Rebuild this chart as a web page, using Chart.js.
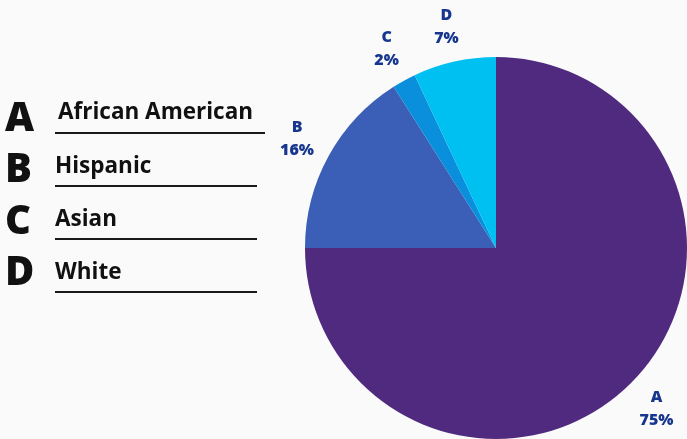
<!DOCTYPE html>
<html>
<head>
<meta charset="utf-8">
<script src="https://cdn.jsdelivr.net/npm/chart.js@4.4.1/dist/chart.umd.min.js"></script>
<style>
    html, body {
        margin: 0;
        padding: 0;
        background: #fafafa;
    }
    #wrap {
        position: relative;
        width: 687px;
        height: 439px;
        overflow: hidden;
        font-family: 'Open Sans', sans-serif;
    }
    #chartPie {
        position: absolute;
        left: 0;
        top: 0;
    }
    .leg-letter {
        position: absolute;
        font-size: 40px;
        line-height: 40px;
        font-weight: 800;
        color: #111;
    }
    .leg-name {
        position: absolute;
        font-size: 22.5px;
        line-height: 22.5px;
        font-weight: 700;
        color: #111;
        white-space: nowrap;
    }
    .leg-line {
        position: absolute;
        height: 2px;
        background: #1a1a1a;
    }
</style>
</head>
<body>
<div id="wrap">
    <canvas id="chartPie" width="687" height="439"></canvas>
    <div id="legend"></div>
</div>
<script>
// Dati del grafico
const letters = ['A', 'B', 'C', 'D'];
const groups = ['African American', 'Hispanic', 'Asian', 'White'];
const percents = [75, 16, 2, 7];
const sliceColors = ['#4f2a7e', '#3b5fb6', '#0a8fdc', '#00c0f1'];

const labelColor = '#17378f';

// Legenda a sinistra (lettera grande + nome sottolineato)
function buildLegend() {
    const box = document.getElementById('legend');
    letters.forEach((letter, i) => {
        const l = document.createElement('div');
        l.className = 'leg-letter';
        l.textContent = letter;
        l.style.left = '5px';
        // baseline ~ 0.888em sotto il top con line-height 1
        l.style.top = (131 + i * 51.5 - 35.5) + 'px';
        box.appendChild(l);

        const n = document.createElement('div');
        n.className = 'leg-name';
        n.textContent = groups[i];
        n.style.left = (i === 0 ? 58 : 55) + 'px';
        n.style.top = (121 + i * 53 - (i === 0 ? 1 : 0) - 20) + 'px';
        box.appendChild(n);

        const u = document.createElement('div');
        u.className = 'leg-line';
        u.style.left = '55px';
        u.style.width = (i === 0 ? 210 : 202) + 'px';
        u.style.top = (132 + i * 53) + 'px';
        box.appendChild(u);
    });
}

// Etichette esterne: lettera + percentuale
const outerLabels = {
    id: 'outerLabels',
    afterDatasetsDraw(chart) {
        const ctx = chart.ctx;
        const meta = chart.getDatasetMeta(0);
        ctx.save();
        ctx.fillStyle = labelColor;
        ctx.font = "800 16px 'Open Sans', sans-serif";
        ctx.textAlign = 'center';
        ctx.textBaseline = 'middle';
        meta.data.forEach((arc, i) => {
            const mid = (arc.startAngle + arc.endAngle) / 2;
            const r = arc.outerRadius + 36;
            const x = arc.x + Math.cos(mid) * r;
            const y = arc.y + Math.sin(mid) * r;
            ctx.fillText(letters[i], x, y - 11.5);
            ctx.fillText(percents[i] + '%', x, y + 11.5);
        });
        ctx.restore();
    }
};

function createPie() {
    const ctx = document.getElementById('chartPie').getContext('2d');
    return new Chart(ctx, {
        type: 'pie',
        data: {
            labels: groups,
            datasets: [{
                data: percents,
                backgroundColor: sliceColors,
                borderWidth: 0,
                hoverOffset: 0
            }]
        },
        options: {
            responsive: false,
            animation: false,
            layout: {
                padding: { left: 305, top: 57, right: 0, bottom: 0 }
            },
            plugins: {
                legend: { display: false },
                tooltip: { enabled: false }
            }
        },
        plugins: [outerLabels]
    });
}

document.addEventListener('DOMContentLoaded', () => {
    buildLegend();
    createPie();
});
</script>
</body>
</html>
